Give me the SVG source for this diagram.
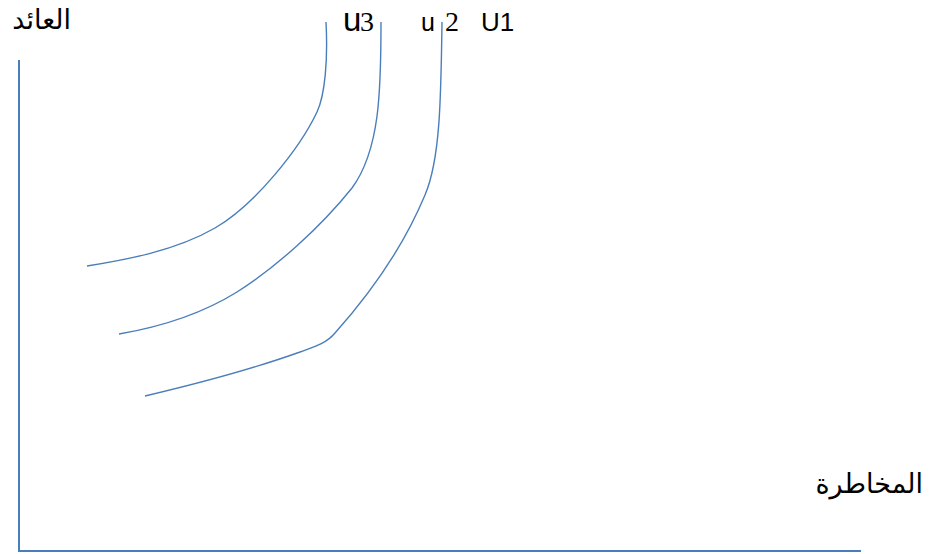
<svg xmlns="http://www.w3.org/2000/svg" width="934" height="554" viewBox="0 0 934 554">
<style>
.ln{fill:none;stroke:#4a7ebb;stroke-width:1.4}
.ax{fill:none;stroke:#4a7ebb;stroke-width:2}
.ar{font-family:"Liberation Serif","DejaVu Sans",serif;font-size:27px;fill:#000}
.sn{font-family:"Liberation Sans",sans-serif;fill:#000}
.sf{font-family:"Liberation Serif",serif;fill:#000}
</style>
<rect width="934" height="554" fill="#fff"/>
<g id="axes">
<path class="ax" d="M19,60 V551 H861"/>
</g>
<g id="connectors">
<path id="curve-u3" class="ln" d="M326,22 C328,60 325,95 317,112 C300,148 255,205 215,228 C175,251 125,260 87,266"/>
<path id="curve-u2" class="ln" d="M381,22 C381,90 380,150 352,188 C320,228 275,268 237,292 C200,315 160,327 119,334"/>
<path id="curve-u1" class="ln" d="M442,22 C441,100 440,160 425,195 C400,255 360,305 335,333 C325,345 310,348 300,352 C250,370 200,383 145,396"/>
</g>
<g id="label-y"><text class="ar" x="71" y="29" text-anchor="end">العائد</text></g>
<g id="label-x"><text class="ar" x="923" y="493" text-anchor="end" font-size="25">المخاطرة</text></g>
<g id="label-u3"><text x="343" y="31"><tspan class="sn" font-size="33" font-weight="300">u</tspan><tspan class="sf" font-size="28" x="360">3</tspan></text></g>
<g id="label-u2"><text x="421" y="31"><tspan class="sn" font-size="25">u</tspan><tspan class="sf" font-size="28" x="445">2</tspan></text></g>
<g id="label-u1"><text class="sn" x="481" y="31" font-size="26">U1</text></g>
</svg>
